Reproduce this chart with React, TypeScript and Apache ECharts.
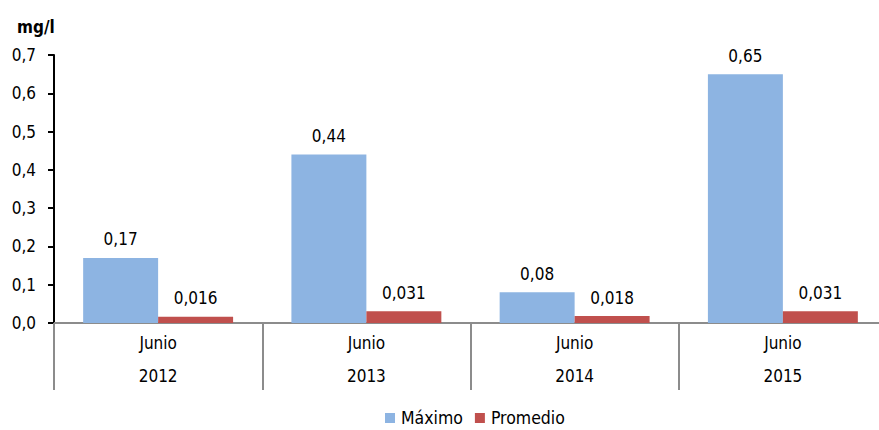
import React, { useEffect, useRef } from "react";
import * as echarts from "echarts";

const categories = ["Junio\n2012", "Junio\n2013", "Junio\n2014", "Junio\n2015"];
const maximo = [0.17, 0.44, 0.08, 0.65];
const promedio = [0.016, 0.031, 0.018, 0.031];
const maximoLabels = ["0,17", "0,44", "0,08", "0,65"];
const promedioLabels = ["0,016", "0,031", "0,018", "0,031"];

const FONT = "'DejaVu Sans Condensed', 'Liberation Sans Narrow', 'Arial Narrow', sans-serif";

export default function App() {
  const ref = useRef<HTMLDivElement>(null);
  useEffect(() => {
    document.body.style.margin = "0";
    const chart = echarts.init(ref.current!, null, { renderer: "svg" });
    chart.setOption({
      animation: false,
      textStyle: { fontFamily: FONT },
      title: {
        text: "mg/l",
        left: 12,
        top: 13,
        textStyle: { fontFamily: FONT, fontSize: 17, fontWeight: "bold", color: "#000" },
      },
      legend: {
        top: 409,
        left: 385,
        padding: 0,
        itemWidth: 10,
        itemHeight: 10,
        itemGap: 12,
        icon: "rect",
        textStyle: { fontFamily: FONT, fontSize: 17.5, lineHeight: 18, color: "#000", padding: [0, 0, 0, 1] },
        data: ["Máximo", "Promedio"],
      },
      grid: { left: 54, right: -8, top: 55, bottom: 107, containLabel: false, outerBoundsMode: "none" },
      xAxis: {
        type: "category",
        data: categories,
        axisLine: { lineStyle: { color: "#8c8c8c", width: 2 } },
        axisTick: { show: true, length: 67, lineStyle: { color: "#8c8c8c", width: 2 } },
        axisLabel: { fontFamily: FONT, fontSize: 17, color: "#000", lineHeight: 33, margin: 3 },
      },
      yAxis: {
        type: "value",
        min: 0,
        max: 0.7,
        interval: 0.1,
        splitLine: { show: false },
        axisLine: { show: true, lineStyle: { color: "#000", width: 2 } },
        axisTick: { show: true, length: 6, lineStyle: { color: "#000", width: 2 } },
        axisLabel: {
          fontFamily: FONT,
          fontSize: 17,
          color: "#000",
          margin: 18,
          formatter: (v: number) => v.toFixed(1).replace(".", ","),
        },
      },
      series: [
        {
          name: "Máximo",
          type: "bar",
          data: maximo,
          barGap: "0%",
          barCategoryGap: "28%",
          itemStyle: { color: "#8DB4E2" },
          label: {
            show: true,
            position: "top",
            distance: 10,
            fontFamily: FONT,
            fontSize: 17,
            color: "#000",
            formatter: (p: any) => maximoLabels[p.dataIndex],
          },
        },
        {
          name: "Promedio",
          type: "bar",
          data: promedio,
          itemStyle: { color: "#C0504D" },
          label: {
            show: true,
            position: "top",
            distance: 10,
            fontFamily: FONT,
            fontSize: 17,
            color: "#000",
            formatter: (p: any) => promedioLabels[p.dataIndex],
          },
        },
      ],
    });
    return () => chart.dispose();
  }, []);
  return <div ref={ref} style={{ width: 879, height: 430 }} />;
}
